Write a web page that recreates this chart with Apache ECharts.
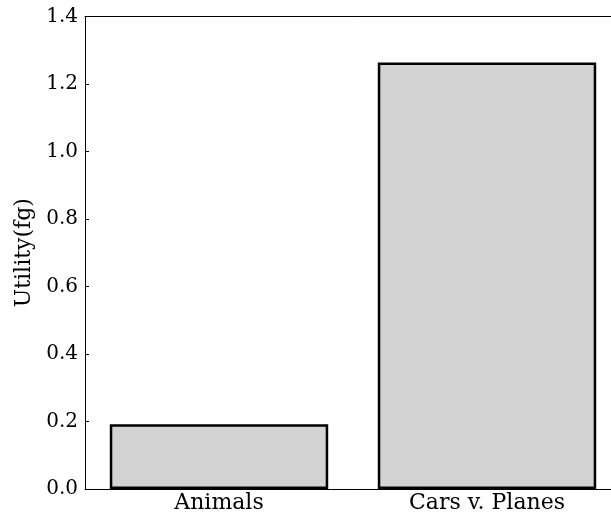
<!DOCTYPE html>
<html>
<head>
<meta charset="utf-8">
<script src="https://cdn.jsdelivr.net/npm/echarts@6/dist/echarts.min.js"></script>
<style>html,body{margin:0;padding:0;background:#fff;overflow:hidden;width:611px;height:516px;}#c{width:640px;height:516px;}</style>
</head>
<body>
<div id="c"></div>
<script>
const categories = ['Animals', 'Cars v. Planes'];
const utility = [0.192, 1.264];
const yTicks = [0, 0.2, 0.4, 0.6, 0.8, 1.0, 1.2, 1.4];

const chart = echarts.init(document.getElementById('c'), null, {renderer: 'canvas'});
const font = 'DejaVu Serif';
chart.setOption({
  animation: false,
  grid: {left: 85, width: 536, top: 16.5, height: 472.5, containLabel: false},
  xAxis: [{
    type: 'category', data: categories, position: 'bottom',
    axisLine: {onZero: false, lineStyle: {color: '#000', width: 1}},
    axisTick: {inside: true, alignWithLabel: true, length: 4, lineStyle: {color: '#000'}},
    axisLabel: {color: '#000', fontFamily: font, fontSize: 22, margin: 3}
  }, {
    type: 'category', data: categories, position: 'top',
    axisLine: {show: true, onZero: false, lineStyle: {color: '#000', width: 1}},
    axisTick: {inside: true, alignWithLabel: true, length: 4, lineStyle: {color: '#000'}},
    axisLabel: {show: false}
  }],
  yAxis: [{
    type: 'value', min: 0, max: 1.4, interval: 0.2, position: 'left',
    name: 'Utility(fg)', nameLocation: 'middle', nameGap: 47, nameRotate: 90,
    nameTextStyle: {color: '#000', fontFamily: font, fontSize: 22},
    axisLine: {show: true, onZero: false, lineStyle: {color: '#000', width: 1}},
    axisTick: {show: true, inside: true, length: 4, lineStyle: {color: '#000'}},
    axisLabel: {color: '#000', fontFamily: font, fontSize: 20, margin: 7,
      formatter: v => { const t = yTicks.find(x => Math.abs(x - v) < 1e-9); return (t !== undefined ? t : v).toFixed(1); }},
    splitLine: {show: false}
  }, {
    type: 'value', min: 0, max: 1.4, interval: 0.2, position: 'right',
    axisLine: {show: true, onZero: false, lineStyle: {color: '#000', width: 1}},
    axisTick: {show: true, inside: true, length: 4, lineStyle: {color: '#000'}},
    axisLabel: {show: false}, splitLine: {show: false}
  }],
  series: [{
    type: 'bar', data: utility, barWidth: '81.5%', xAxisIndex: 0, yAxisIndex: 0,
    itemStyle: {color: '#d3d3d3', borderColor: '#000', borderWidth: 2.5}
  }]
});
</script>
</body>
</html>
